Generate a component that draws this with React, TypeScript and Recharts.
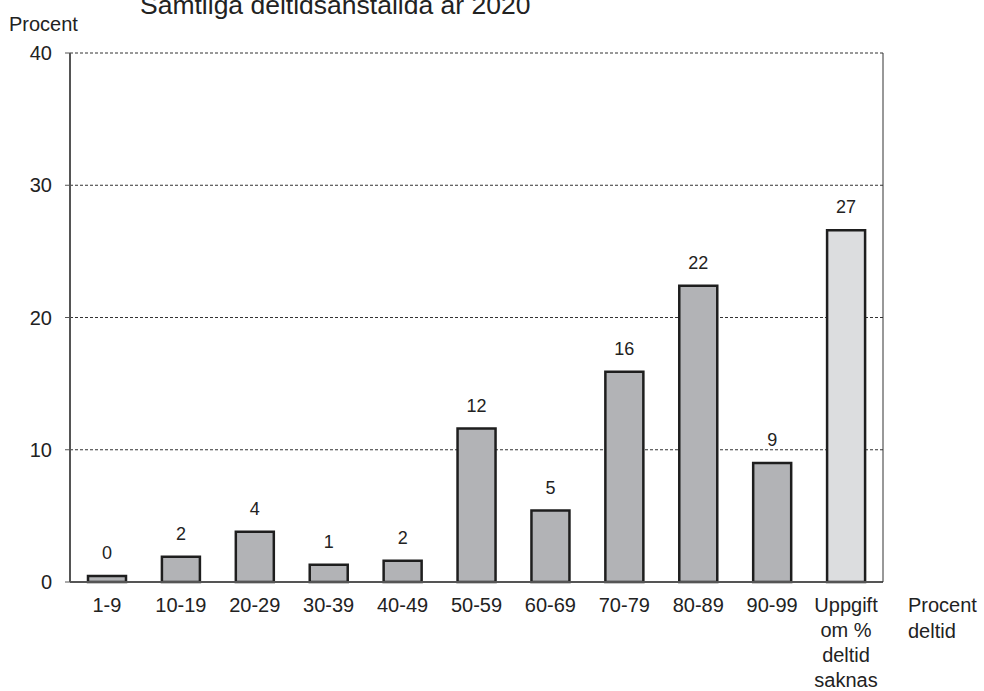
import { BarChart, Bar, XAxis, YAxis, CartesianGrid, LabelList, Cell } from 'recharts'

// Andel deltidsanställda efter tjänstgöringsgrad, procent
const categories = ['1-9', '10-19', '20-29', '30-39', '40-49', '50-59', '60-69', '70-79', '80-89', '90-99', 'Uppgift\nom %\ndeltid\nsaknas']
const shares = [0.45, 1.9, 3.8, 1.3, 1.6, 11.6, 5.4, 15.9, 22.4, 9.0, 26.6]
const yTicks = [0, 10, 20, 30, 40]

const data = categories.map((name, i) => ({ name, value: shares[i] }))

const font = 'Arial, "Liberation Sans", Helvetica, sans-serif'

function MultiLineTick(props: any) {
  const { x, y, payload } = props
  const lines = String(payload.value).split('\n')
  return (
    <text x={x} y={y} textAnchor="middle" fill="#222" fontSize={20} fontFamily={font}>
      {lines.map((line, i) => (
        <tspan key={i} x={x} dy={i === 0 ? '0.71em' : 25}>
          {line}
        </tspan>
      ))}
    </text>
  )
}

export default function App() {
  return (
    <div style={{ position: 'absolute', left: 0, top: 0, width: 984, height: 691, background: '#fff', fontFamily: font }}>
      <BarChart
        width={984}
        height={691}
        data={data}
        margin={{ top: 53, right: 100, left: 0, bottom: 0 }}
        barSize={38}
      >
        <CartesianGrid yAxisId="left" vertical={false} stroke="#333" strokeDasharray="3 2" />
        <XAxis
          dataKey="name"
          interval={0}
          height={109}
          tickSize={0}
          tickMargin={16}
          tickLine={false}
          axisLine={{ stroke: '#555', strokeWidth: 2 }}
          tick={<MultiLineTick />}
        />
        <YAxis
          yAxisId="left"
          width={70}
          domain={[0, 40]}
          ticks={yTicks}
          tickSize={5}
          tickMargin={13}
          tickLine={{ stroke: '#555' }}
          axisLine={{ stroke: '#555', strokeWidth: 2 }}
          tick={{ fill: '#222', fontSize: 20, fontFamily: font }}
        />
        <YAxis
          yAxisId="right"
          orientation="right"
          width={1}
          domain={[0, 40]}
          tick={false}
          tickLine={false}
          axisLine={{ stroke: '#333', strokeWidth: 1 }}
        />
        <Bar yAxisId="left" dataKey="value" stroke="#1e1e1e" strokeWidth={2.5} isAnimationActive={false}>
          {data.map((d, i) => (
            <Cell key={d.name} fill={i === data.length - 1 ? '#dcdddf' : '#b2b3b6'} />
          ))}
          <LabelList
            dataKey="value"
            position="top"
            offset={17}
            formatter={(v: any) => Math.round(Number(v))}
            style={{ fill: '#222', fontSize: 18, fontFamily: font }}
          />
        </Bar>
        <text x={140} y={14} fontSize={26.5} fill="#222" fontFamily={font}>
          Samtliga deltidsanställda år 2020
        </text>
        <text x={9} y={31} fontSize={20} fill="#222" fontFamily={font}>
          Procent
        </text>
        <text x={908} y={612} fontSize={20} fill="#222" fontFamily={font}>
          <tspan x={908}>Procent</tspan>
          <tspan x={908} dy={26}>deltid</tspan>
        </text>
      </BarChart>
    </div>
  )
}
